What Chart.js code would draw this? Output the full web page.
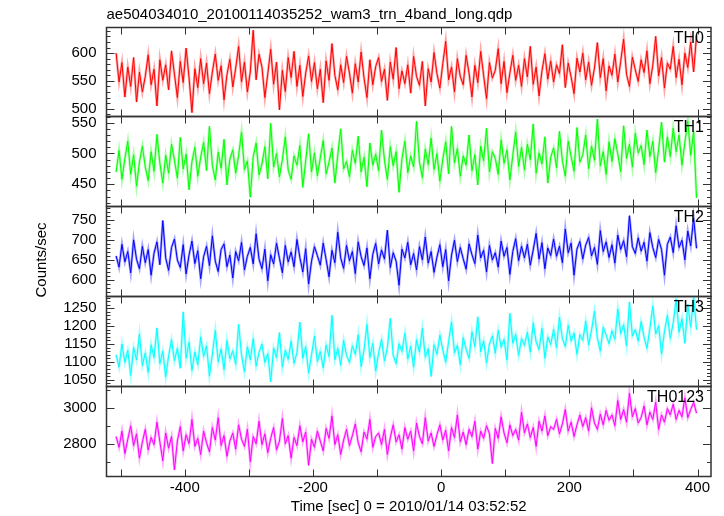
<!DOCTYPE html>
<html>
<head>
<meta charset="utf-8">
<script src="https://cdn.jsdelivr.net/npm/chart.js@4.4.1/dist/chart.umd.min.js"></script>
<style>
  body { margin: 0; background: #fff; }
  #wrap { position: relative; width: 724px; height: 516px; background: #fff; }
  #wrap canvas { position: absolute; left: 0; top: 0; }
</style>
</head>
<body>
<div id="wrap"></div>
<script>
// time bins (sec from 2010/01/14 03:52:52)
const TIME_START = -507;
const TIME_STEP = 4.55;

const th0 = [
  600, 548, 583, 521, 575, 540, 592, 512, 566, 530,
  558, 597, 543, 571, 505, 588, 551, 579, 534, 604,
  562, 520, 585, 547, 609, 556, 493, 572, 538, 590,
  545, 582, 527, 566, 598, 551, 577, 516, 561, 589,
  539, 573, 612, 548, 584, 530, 566, 641, 552, 598,
  575, 520, 563, 607, 544, 584, 498, 569, 531, 592,
  556, 603, 540, 578, 522, 564, 595, 549, 583, 536,
  571, 511, 586, 551, 617, 560, 534, 579, 547, 594,
  564, 528, 581, 548, 602, 555, 520, 588, 543, 576,
  592, 549, 571, 515, 584, 553, 610, 536, 568, 545,
  579, 528, 594, 558, 542, 585, 505, 572, 548, 601,
  563, 537, 581, 621, 552, 575, 530, 590, 558, 543,
  596, 564, 521, 578, 547, 603, 560, 518, 583, 555,
  569, 608, 545, 585, 529, 564, 596, 551, 578, 540,
  590, 557, 612, 544, 575, 523, 568, 599, 553, 586,
  548, 579, 563, 615, 538, 582, 557, 527, 591, 566,
  600, 552, 584, 542, 573, 619, 556, 590, 532, 577,
  560, 598, 548, 585, 625, 562, 540, 593, 570, 549,
  588, 565, 604, 545, 578, 630, 559, 592, 537, 582,
  571, 612, 556, 589, 543, 600, 574, 620, 566, 632
];

const th1 = [
  470, 505, 458, 492, 520, 466, 498, 447, 486, 512,
  478, 456, 503, 471, 531, 484, 452, 497, 468, 515,
  489, 460, 526, 475, 499, 441, 487, 510, 463, 494,
  518, 472, 544, 481, 457, 502, 476, 523, 449, 491,
  506, 468, 497, 535, 474, 488, 429, 495, 517, 465,
  483, 511, 459, 549, 478, 500, 462, 490, 527, 473,
  458, 496, 481, 513, 445, 488, 532, 470, 501, 464,
  493, 521, 467, 486, 509, 452, 498, 540, 475, 487,
  462, 505, 484, 528, 470, 494, 446, 517, 481, 499,
  472, 538, 489, 458, 511, 480, 503, 437, 492, 520,
  469, 496, 478, 552, 486, 461, 507, 482, 525, 474,
  500, 455, 491, 519, 467, 544, 485, 508, 463, 496,
  481, 530, 472, 498, 449, 512, 488, 541, 470, 503,
  492, 466, 522, 484, 506, 457, 497, 535, 479, 510,
  473, 515, 490, 548, 468, 501, 483, 527, 452, 494,
  509, 477, 536, 488, 463, 520, 495, 471, 542, 486,
  498, 530, 475, 512, 489, 556, 480, 503, 466, 519,
  487, 524, 499, 470, 545, 492, 515, 478, 533, 501,
  513, 482, 538, 495, 520, 469, 507, 551, 486, 527,
  495, 541, 503, 530, 481, 518, 553, 497, 536, 428
];

const th2 = [
  660, 632, 689, 645, 671, 618, 700, 652, 628, 684,
  643, 676, 612, 667, 695, 638, 748, 655, 624, 681,
  702, 650, 631, 688, 615, 662, 697, 641, 673, 603,
  658, 684, 636, 710, 647, 621, 676, 690, 633, 662,
  605, 671, 648, 694, 625, 659, 681, 640, 715, 652,
  628, 677, 598, 663, 640, 692, 654, 618, 686, 645,
  670, 633, 701, 656, 620, 678, 590, 647, 683, 661,
  637, 692, 651, 608, 674, 643, 719, 655, 629, 686,
  648, 671, 616, 695, 658, 636, 680, 603, 664, 691,
  640, 675, 652, 724, 631, 668, 647, 587, 677, 655,
  694, 638, 666, 625, 683, 650, 707, 642, 671, 619,
  657, 688, 633, 676, 598, 662, 699, 646, 681, 653,
  627, 690, 663, 641, 712, 655, 674, 620, 686, 650,
  668, 632, 697, 659, 681, 614, 671, 703, 648, 684,
  655, 689, 637, 675, 716, 652, 693, 628, 680, 661,
  702, 659, 684, 643, 727, 668, 692, 612, 677, 696,
  652, 687, 706, 660, 681, 639, 723, 671, 695, 656,
  688, 642, 712, 676, 698, 658, 760, 683, 666, 705,
  672, 694, 647, 718, 681, 656, 701, 676, 612, 689,
  707, 668, 735, 681, 699, 650, 722, 685, 754, 679
];

const th3 = [
  1120, 1085, 1150, 1098, 1132, 1062, 1140, 1105, 1178, 1090,
  1125, 1070, 1148, 1112, 1195, 1095, 1130, 1058, 1117, 1162,
  1103, 1138, 1082, 1240, 1110, 1155, 1076, 1128, 1092, 1170,
  1115, 1145, 1060, 1122, 1188, 1100, 1136, 1078, 1160, 1108,
  1131, 1093, 1205, 1119, 1072, 1142, 1106, 1165, 1088, 1127,
  1150, 1098, 1123, 1044, 1139, 1112, 1182, 1085, 1133, 1107,
  1158, 1096, 1126, 1211, 1110, 1143, 1069, 1120, 1172, 1101,
  1129, 1083, 1147, 1115, 1230, 1106, 1138, 1091, 1160, 1118,
  1098, 1145, 1121, 1176, 1087, 1133, 1205, 1112, 1152, 1074,
  1126, 1163, 1103, 1140, 1222, 1118, 1095, 1151, 1129, 1180,
  1108, 1144, 1085, 1162, 1127, 1194, 1113, 1137, 1059, 1148,
  1121, 1175, 1133, 1099, 1157, 1212, 1125, 1146, 1092, 1168,
  1135, 1110, 1184, 1142, 1226, 1128, 1159, 1097, 1150, 1173,
  1124, 1188, 1141, 1163, 1105, 1236, 1152, 1177, 1118, 1165,
  1146, 1183, 1127, 1209, 1156, 1134, 1194, 1110, 1170, 1148,
  1191, 1139, 1225, 1165, 1143, 1202, 1158, 1181, 1121, 1176,
  1160, 1214, 1147, 1189, 1242, 1166, 1130, 1197, 1175, 1151,
  1187, 1163, 1248, 1179, 1204, 1145, 1268, 1172, 1190, 1158,
  1213, 1169, 1138, 1194, 1256, 1178, 1201, 1122, 1185, 1230,
  1166, 1209, 1275, 1183, 1221, 1152, 1262, 1197, 1283, 1190
];

const th0123 = [
  2840, 2780, 2870, 2745, 2825, 2900, 2790, 2855, 2720, 2810,
  2880, 2765, 2835, 2795, 2920, 2810, 2705, 2860, 2775, 2840,
  2655, 2815, 2895, 2760, 2850, 2800, 2935, 2785, 2830, 2740,
  2870, 2805, 2755, 2890, 2820, 2945, 2790, 2845, 2730, 2815,
  2860, 2770, 2905, 2825, 2785, 2880, 2700, 2840, 2800, 2925,
  2795, 2855, 2750, 2830, 2890, 2765, 2815, 2940, 2800, 2845,
  2720, 2835, 2790, 2900, 2810, 2865, 2680, 2825, 2780, 2870,
  2815, 2760, 2885, 2830, 2955, 2795, 2850, 2740, 2820, 2880,
  2790, 2845, 2910, 2805, 2755, 2865, 2825, 2935, 2780, 2840,
  2860, 2795, 2880, 2740, 2835, 2905, 2810, 2850, 2770, 2890,
  2825, 2870, 2760, 2915, 2840, 2800, 2945, 2815, 2860, 2785,
  2850, 2905, 2820, 2875, 2760, 2890, 2835, 2960, 2810, 2865,
  2795, 2880, 2840, 2925, 2770, 2870, 2830, 2900, 2855, 2690,
  2885, 2830, 2950, 2860, 2805, 2905, 2845, 2880, 2820, 2975,
  2860, 2910, 2835, 2890, 2785, 2925, 2870, 2955, 2845, 2895,
  2880, 2935, 2855, 2910, 2990, 2870, 2920, 2840, 2905, 2960,
  2895, 2945, 2870, 3000, 2915, 2880, 2965, 2905, 2985, 2930,
  2960, 2900, 3040, 2935, 2990, 2920, 3080, 2950, 2995, 2915,
  2945, 3010, 2905, 2975, 2935, 3030, 2880, 2960, 2920, 2995,
  2960, 3020, 2935, 2985, 2950, 3055, 2945, 2990, 3030, 2970
];

const panelSeries = [th0, th1, th2, th3, th0123];
const panelNames = ["TH0", "TH1", "TH2", "TH3", "TH0123"];
const panelColors = ["#ff0000", "#00ff00", "#0000ff", "#00ffff", "#ff00ff"];
const panelHalos = ["rgba(255,0,0,0.35)", "rgba(0,255,0,0.35)", "rgba(0,0,255,0.35)", "rgba(0,255,255,0.35)", "rgba(255,0,255,0.35)"];
const yMins = [486, 414, 559, 1031, 2618];
const yMaxs = [646, 560, 783, 1283, 3118];
const yTickLabels = [
  [500, 550, 600],
  [450, 500, 550],
  [600, 650, 700, 750],
  [1050, 1100, 1150, 1200, 1250],
  [2800, 3000]
];
const yMinorSteps = [10, 10, 10, 10, 100];
const xTickLabels = [-400, -200, 0, 200, 400];
const xMinorTicks = [-500, -400, -300, -200, -100, 0, 100, 200, 300, 400];

const TITLE = "ae504034010_20100114035252_wam3_trn_4band_long.qdp";
const X_TITLE = "Time [sec] 0 = 2010/01/14 03:52:52";
const Y_TITLE = "Counts/sec";

const W = 724, H = 516;
const panelTops = [27.5, 116.5, 206.5, 296.5, 386.5];
const plotBottom = 476.5;
const axisWidth = 106.5;
const FONT = "'Liberation Sans', Arial, Helvetica, sans-serif";

Chart.defaults.font.family = FONT;
Chart.defaults.font.size = 15;
Chart.defaults.color = "#000";

function panelFrame(i) {
  return {
    id: "panelFrame" + i,
    afterDatasetsDraw(chart) {
      const ctx = chart.ctx;
      const a = chart.chartArea;
      const xs = chart.scales.x, ys = chart.scales.y;
      ctx.save();
      ctx.strokeStyle = "#333";
      ctx.lineWidth = 1.5;
      ctx.strokeRect(a.left, a.top, a.right - a.left, a.bottom - a.top);
      ctx.lineWidth = 1;
      ctx.beginPath();
      xMinorTicks.forEach(v => {
        const px = Math.round(xs.getPixelForValue(v)) + 0.5;
        ctx.moveTo(px, a.top); ctx.lineTo(px, a.top + 7);
        ctx.moveTo(px, a.bottom); ctx.lineTo(px, a.bottom - 7);
      });
      const step = yMinorSteps[i];
      for (let v = Math.ceil(yMins[i] / step) * step; v <= yMaxs[i]; v += step) {
        const py = Math.round(ys.getPixelForValue(v)) + 0.5;
        const len = yTickLabels[i].includes(v) ? 8 : 4;
        ctx.moveTo(a.left, py); ctx.lineTo(a.left + len, py);
        ctx.moveTo(a.right, py); ctx.lineTo(a.right - len, py);
      }
      ctx.stroke();
      ctx.fillStyle = "#000";
      ctx.font = "16px " + FONT;
      ctx.textAlign = "right";
      ctx.textBaseline = "middle";
      ctx.fillText(panelNames[i], a.right - 7, a.top + 11);
      if (i === 2) {
        ctx.font = "15px " + FONT;
        ctx.translate(42, 260);
        ctx.rotate(-Math.PI / 2);
        ctx.textAlign = "center";
        ctx.fillText(Y_TITLE, 0, 0);
      }
      ctx.restore();
    }
  };
}

const wrap = document.getElementById("wrap");
panelSeries.forEach((series, i) => {
  const last = i === panelSeries.length - 1;
  const canvas = document.createElement("canvas");
  canvas.width = W; canvas.height = H;
  wrap.appendChild(canvas);
  const pts = series.map((v, k) => ({ x: TIME_START + k * TIME_STEP, y: v }));
  new Chart(canvas, {
    type: "line",
    data: {
      datasets: [
        { data: pts, borderColor: panelHalos[i], borderWidth: 2.5, pointRadius: 0, clip: 0 },
        { data: pts, borderColor: panelColors[i], borderWidth: 1, pointRadius: 0, clip: 0 }
      ]
    },
    options: {
      responsive: false,
      animation: false,
      devicePixelRatio: 1,
      layout: {
        padding: {
          top: i === 0 ? 0 : panelTops[i],
          bottom: last ? 0 : H - panelTops[i + 1],
          left: 0,
          right: 13
        }
      },
      plugins: {
        legend: { display: false },
        tooltip: { enabled: false },
        title: {
          display: i === 0,
          text: TITLE,
          align: "start",
          fullSize: false,
          font: { size: 15, weight: "normal" },
          padding: { top: 6, bottom: 3.5 }
        }
      },
      scales: {
        x: {
          type: "linear",
          min: -522,
          max: 421,
          display: last,
          grid: { display: false, drawTicks: false },
          border: { display: false },
          ticks: { padding: 2, maxRotation: 0, autoSkip: false, callback: v => String(v) },
          afterBuildTicks: s => { s.ticks = xTickLabels.map(v => ({ value: v })); },
          afterFit: s => { if (last) s.height = H - plotBottom; },
          title: { display: true, text: X_TITLE, font: { size: 15 }, padding: 0 }
        },
        y: {
          min: yMins[i],
          max: yMaxs[i],
          grid: { display: false, drawTicks: false },
          border: { display: false },
          ticks: { padding: 10, autoSkip: false, callback: v => String(v) },
          afterBuildTicks: s => { s.ticks = yTickLabels[i].map(v => ({ value: v })); },
          afterFit: s => { s.width = axisWidth; }
        }
      }
    },
    plugins: [panelFrame(i)]
  });
});
</script>
</body>
</html>
